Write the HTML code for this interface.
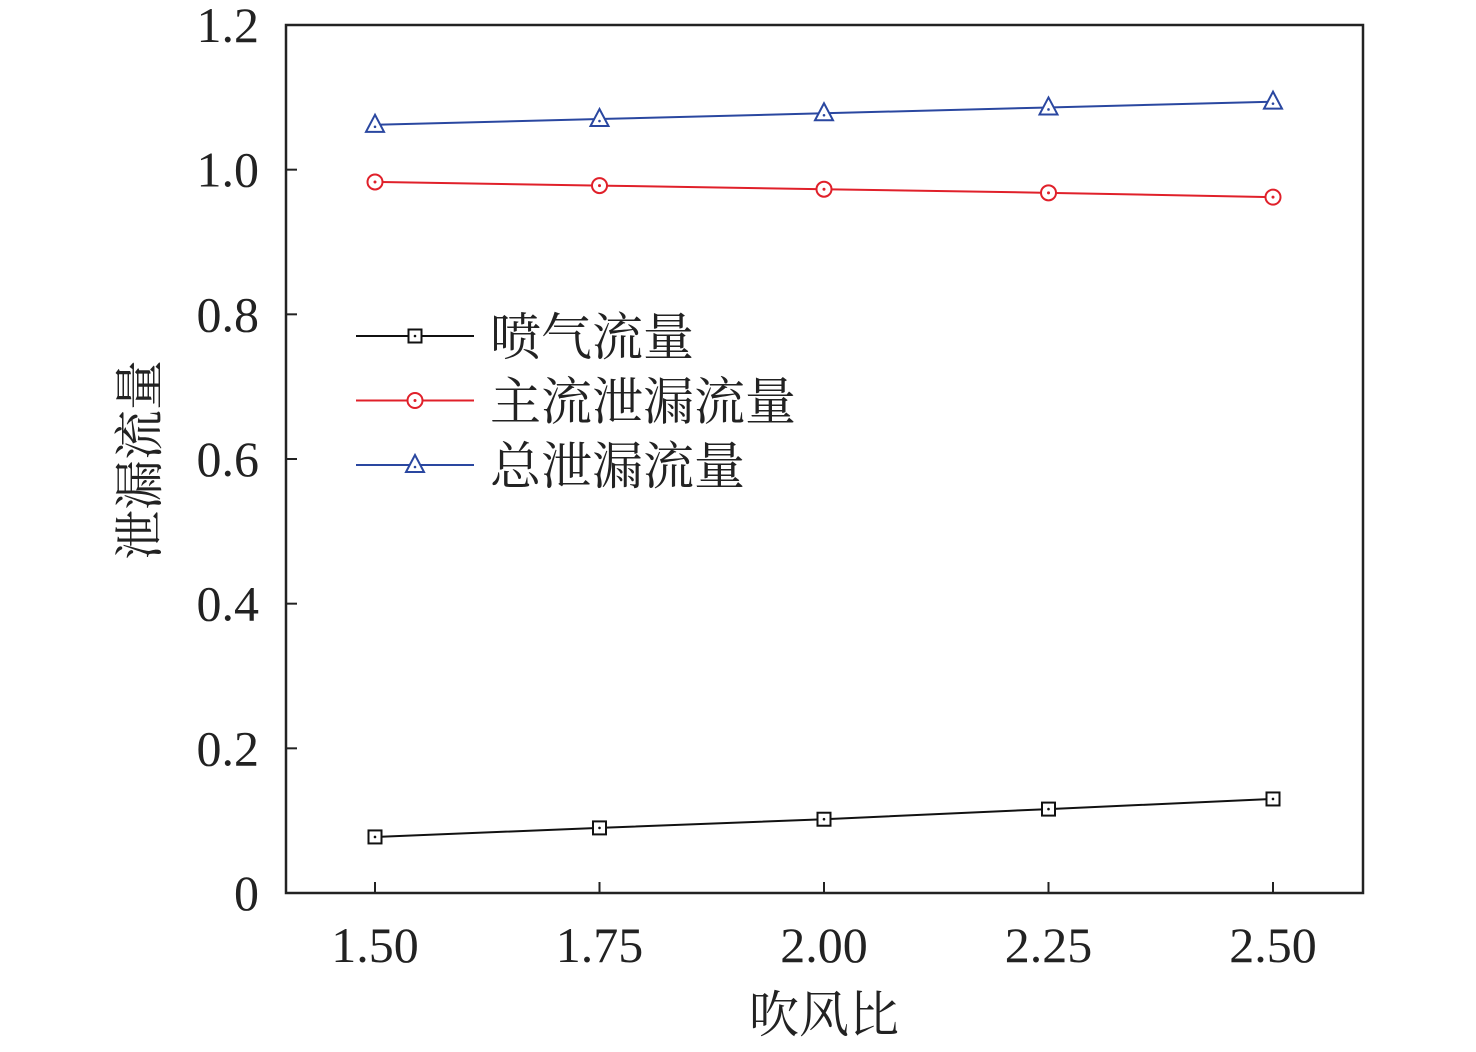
<!DOCTYPE html>
<html><head><meta charset="utf-8"><style>
body{margin:0;background:#fff}
svg text{font-family:"Liberation Serif","Noto Serif CJK SC",serif;fill:#222}
</style></head><body>
<svg width="1476" height="1047" viewBox="0 0 1476 1047">
<g id="plot"></g>
</svg>
<script>
const categories=[1.50,1.75,2.00,2.25,2.50];
const xTickLabels=["1.50","1.75","2.00","2.25","2.50"];
const yTicks=[0,0.2,0.4,0.6,0.8,1.0,1.2];
const yTickLabels=["0","0.2","0.4","0.6","0.8","1.0","1.2"];
const jetFlow=[0.0775,0.090,0.102,0.116,0.130];
const mainLeak=[0.983,0.978,0.973,0.968,0.962];
const totalLeak=[1.062,1.070,1.078,1.086,1.094];
const seriesNames=["喷气流量","主流泄漏流量","总泄漏流量"];

const L=286,R=1363,T=25,B=893;
const xs=v=>375+(v-1.5)*898;
const ys=v=>B-v*(B-T)/1.2;
const NS="http://www.w3.org/2000/svg";
const g=document.getElementById('plot');
function mk(tag,attrs,parent){const e=document.createElementNS(NS,tag);for(const k in attrs)e.setAttribute(k,attrs[k]);(parent||g).appendChild(e);return e;}

const frame=mk('rect',{x:L,y:T,width:R-L,height:B-T,fill:'none',stroke:'#222','stroke-width':2.5});



categories.forEach((c,i)=>{
  const t=mk('line',{x1:xs(c),x2:xs(c),y1:B,y2:B-11,stroke:'#222','stroke-width':2});
  
  
  const tx=mk('text',{x:xs(c),y:962,'text-anchor':'middle','font-size':50});
  tx.textContent=xTickLabels[i];
  
  
});
yTicks.forEach((v,i)=>{
  const t=mk('line',{x1:L,x2:L+11,y1:ys(v),y2:ys(v),stroke:'#222','stroke-width':2});
  
  
  const tx=mk('text',{x:259,y:ys(v)+17,'text-anchor':'end','font-size':50});
  tx.textContent=yTickLabels[i];
  
  
});
const xt=mk('text',{x:824,y:1032,'text-anchor':'middle','font-size':50});
xt.textContent='吹风比';


const yt=mk('text',{x:0,y:0,'text-anchor':'middle','font-size':50,transform:'translate(157,460) rotate(-90)'});
yt.textContent='泄漏流量';



function marker(type,x,y,color,parent){
  if(type==='sq'){mk('rect',{x:x-6.5,y:y-6.5,width:13,height:13,fill:'#fff',stroke:color,'stroke-width':2},parent);mk('circle',{cx:x,cy:y,r:1.3,fill:color},parent);}
  else if(type==='ci'){mk('circle',{cx:x,cy:y,r:7.5,fill:'#fff',stroke:color,'stroke-width':2},parent);mk('circle',{cx:x,cy:y,r:1.5,fill:color},parent);}
  else{mk('polygon',{points:`${x},${y-10} ${x-9},${y+7} ${x+9},${y+7}`,fill:'#fff',stroke:color,'stroke-width':2},parent);mk('circle',{cx:x,cy:y+2,r:1.3,fill:color},parent);}
}
const series=[[jetFlow,'#111','sq','series-jet-flow'],[mainLeak,'#e0202a','ci','series-main-leak'],[totalLeak,'#2a47a0','tr','series-total-leak']];
series.forEach(([data,color,type,name],si)=>{
  const sg=mk('g',{});
  
  
  mk('polyline',{points:data.map((v,i)=>xs(categories[i])+','+ys(v)).join(' '),fill:'none',stroke:color,'stroke-width':2},sg);
  data.forEach((v,i)=>marker(type,xs(categories[i]),ys(v),color,sg));
  const ly=336+si*64.5;
  const lg=mk('g',{});
  
  
  mk('line',{x1:356,x2:474,y1:ly,y2:ly,stroke:color,'stroke-width':2},lg);
  marker(type,415,ly,color,lg);
  const lt=mk('text',{x:490,y:ly+19,'font-size':51},lg);
  lt.textContent=seriesNames[si];
});
</script>
</body></html>
